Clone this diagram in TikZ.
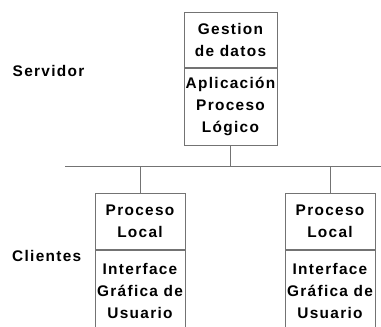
\documentclass[tikz,border=0pt]{standalone}
\usepackage{fontspec}
\newfontfamily\boxfont{Liberation Sans}[LetterSpace=8.5]
\usetikzlibrary{positioning}
\tikzset{
  capa/.style={draw=gray!90!black,line width=1pt,minimum width=90pt,inner sep=0pt,align=center,
    font=\boxfont\bfseries\fontsize{15.4}{22}\selectfont},
  rotulo/.style={anchor=west,inner sep=0pt,font=\boxfont\bfseries\fontsize{15.4}{22}\selectfont},
  enlace/.style={draw=gray!90!black,line width=1pt}
}
\begin{document}
\begin{tikzpicture}[x=1pt,y=-1pt]
\useasboundingbox (0,0) rectangle (381,327);
\clip (0,0) rectangle (381,327);
 \node[capa,minimum width=93pt,minimum height=55pt] (gestion) at (230.5,39.5) {Gestion\\de datos};
 \node[capa,minimum width=93pt,minimum height=77pt,below=0pt of gestion] (aplicacion) {Aplicación\\Proceso\\Lógico};
 \node[capa,minimum height=56pt] (local1) at (140,221) {Proceso\\Local};
 \node[capa,minimum height=82pt,below=0pt of local1] (interfaz1) {Interface\\Gráfica de\\Usuario};
 \node[capa,minimum height=56pt] (local2) at (330,221) {Proceso\\Local};
 \node[capa,minimum height=82pt,below=0pt of local2] (interfaz2) {Interface\\Gráfica de\\Usuario};
 \node[rotulo] (servidor) at (12.5,70.5) {Servidor};
 \node[rotulo] (clientes) at (12,255.5) {Clientes};
 % red
 \coordinate (busizq) at (65,166);
 \coordinate (busder) at (382,166);
 \draw[enlace] (busizq)--(busder);
 \draw[enlace] (aplicacion.south)--(aplicacion.south |- busizq);
 \draw[enlace] (local1.north)--(local1.north |- busizq);
 \draw[enlace] (local2.north)--(local2.north |- busizq);
\end{tikzpicture}
\end{document}
